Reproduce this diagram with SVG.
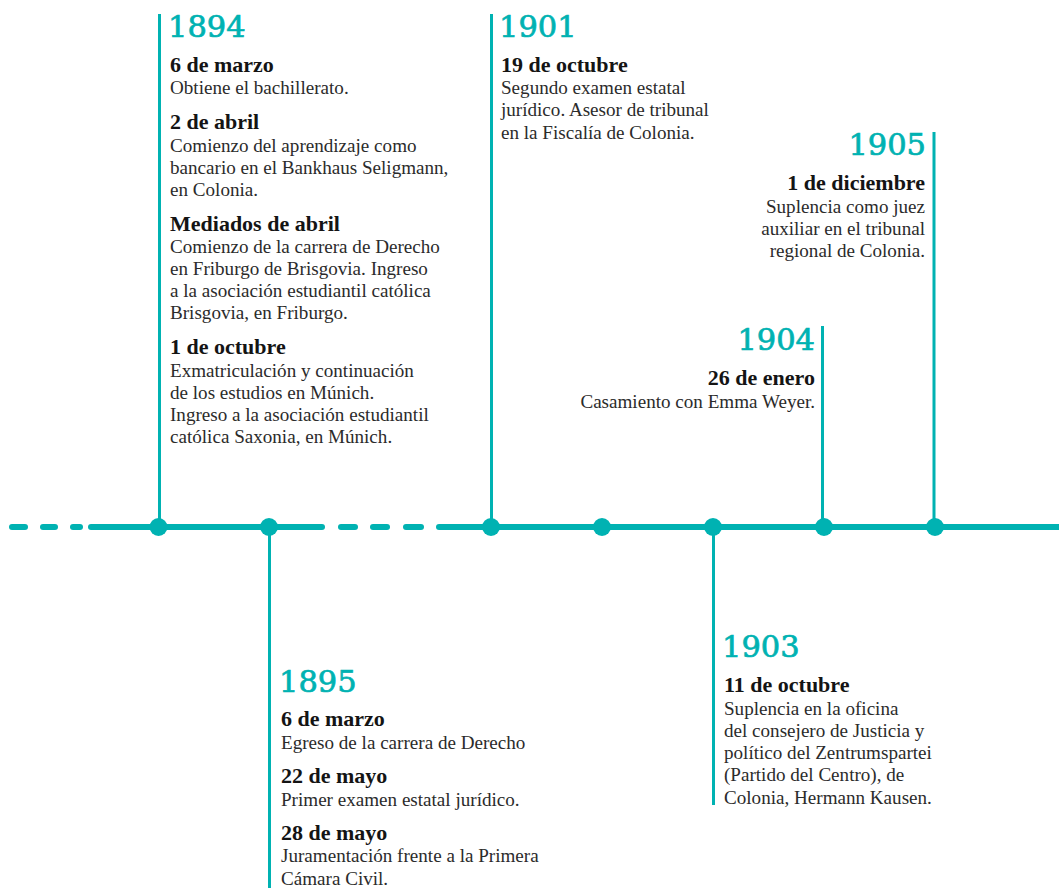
<svg xmlns="http://www.w3.org/2000/svg" width="1059" height="888" viewBox="0 0 1059 888">
<style>
.yr{font-family:"DejaVu Serif",serif;font-size:30.5px;fill:#00b2b2;stroke:#00b2b2;stroke-width:0.7px}
.hd{font-family:"Liberation Serif",serif;font-weight:bold;font-size:22px;fill:#141414}
.tx{font-family:"Liberation Serif",serif;font-size:19.1px;fill:#2b2b2b}
.r{text-anchor:end}
.dash{stroke:#00b2b2;stroke-width:6;stroke-linecap:round;fill:none}
.stem{stroke:#00b2b2;stroke-width:3;fill:none}
.dot{fill:#00b2b2}
</style>
<rect width="1059" height="888" fill="#ffffff"/>
<g id="connectors">
<line class="dash" x1="12" y1="527" x2="25" y2="527"/>
<line class="dash" x1="43" y1="527" x2="55" y2="527"/>
<line class="dash" x1="73" y1="527" x2="80" y2="527"/>
<line class="dash" x1="91" y1="527" x2="322" y2="527"/>
<line class="dash" x1="341" y1="527" x2="355" y2="527"/>
<line class="dash" x1="373" y1="527" x2="387" y2="527"/>
<line class="dash" x1="406" y1="527" x2="421" y2="527"/>
<line class="dash" x1="439" y1="527" x2="1062" y2="527"/>
<line class="stem" x1="159.5" y1="14" x2="159.5" y2="527"/>
<line class="stem" x1="269.5" y1="527" x2="269.5" y2="888"/>
<line class="stem" x1="491.5" y1="14" x2="491.5" y2="527"/>
<line class="stem" x1="713.5" y1="527" x2="713.5" y2="805"/>
<line class="stem" x1="822.5" y1="326" x2="822.5" y2="527"/>
<line class="stem" x1="934" y1="132" x2="934" y2="527"/>
</g>
<g id="dots">
<circle class="dot" cx="158.5" cy="527" r="9"/>
<circle class="dot" cx="269" cy="527" r="9"/>
<circle class="dot" cx="491" cy="527" r="9"/>
<circle class="dot" cx="602" cy="527" r="9"/>
<circle class="dot" cx="713" cy="527" r="9"/>
<circle class="dot" cx="824" cy="527" r="9"/>
<circle class="dot" cx="935" cy="527" r="9"/>
</g>
<g id="n1894">
<text class="yr" x="168" y="37">1894</text>
<text class="hd" x="170" y="72">6 de marzo</text>
<text class="tx" x="170" y="94">Obtiene el bachillerato.</text>
<text class="hd" x="170" y="128.5">2 de abril</text>
<text class="tx" x="170" y="151.5">Comienzo del aprendizaje como</text>
<text class="tx" x="170" y="173.5">bancario en el Bankhaus Seligmann,</text>
<text class="tx" x="170" y="195.5">en Colonia.</text>
<text class="hd" x="170" y="230.5">Mediados de abril</text>
<text class="tx" x="170" y="253.3">Comienzo de la carrera de Derecho</text>
<text class="tx" x="170" y="275.3">en Friburgo de Brisgovia. Ingreso</text>
<text class="tx" x="170" y="297.3">a la asociación estudiantil católica</text>
<text class="tx" x="170" y="319.3">Brisgovia, en Friburgo.</text>
<text class="hd" x="170" y="354">1 de octubre</text>
<text class="tx" x="170" y="376.7">Exmatriculación y continuación</text>
<text class="tx" x="170" y="398.9">de los estudios en Múnich.</text>
<text class="tx" x="170" y="421.1">Ingreso a la asociación estudiantil</text>
<text class="tx" x="170" y="443.3">católica Saxonia, en Múnich.</text>
</g>
<g id="n1895">
<text class="yr" x="279" y="692">1895</text>
<text class="hd" x="281" y="726">6 de marzo</text>
<text class="tx" x="281" y="749">Egreso de la carrera de Derecho</text>
<text class="hd" x="281" y="783">22 de mayo</text>
<text class="tx" x="281" y="806">Primer examen estatal jurídico.</text>
<text class="hd" x="281" y="839.5">28 de mayo</text>
<text class="tx" x="281" y="862">Juramentación frente a la Primera</text>
<text class="tx" x="281" y="884.5">Cámara Civil.</text>
</g>
<g id="n1901">
<text class="yr" x="499" y="37">1901</text>
<text class="hd" x="501" y="72">19 de octubre</text>
<text class="tx" x="501" y="94">Segundo examen estatal</text>
<text class="tx" x="501" y="116.3">jurídico. Asesor de tribunal</text>
<text class="tx" x="501" y="138.6">en la Fiscalía de Colonia.</text>
</g>
<g id="n1903">
<text class="yr" x="722" y="657">1903</text>
<text class="hd" x="724" y="692">11 de octubre</text>
<text class="tx" x="724" y="714.5">Suplencia en la oficina</text>
<text class="tx" x="724" y="736.8">del consejero de Justicia y</text>
<text class="tx" x="724" y="759.1">político del Zentrumspartei</text>
<text class="tx" x="724" y="781.4">(Partido del Centro), de</text>
<text class="tx" x="724" y="803.7">Colonia, Hermann Kausen.</text>
</g>
<g id="n1904">
<text class="yr r" x="815" y="350">1904</text>
<text class="hd r" x="815" y="385">26 de enero</text>
<text class="tx r" x="815" y="407.5">Casamiento con Emma Weyer.</text>
</g>
<g id="n1905">
<text class="yr r" x="926" y="155">1905</text>
<text class="hd r" x="925" y="190">1 de diciembre</text>
<text class="tx r" x="925" y="212.5">Suplencia como juez</text>
<text class="tx r" x="925" y="234.8">auxiliar en el tribunal</text>
<text class="tx r" x="925" y="257.1">regional de Colonia.</text>
</g>
</svg>
